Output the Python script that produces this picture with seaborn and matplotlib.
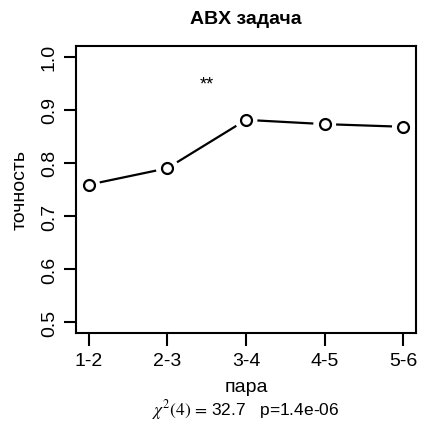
import matplotlib
matplotlib.use("Agg")
import matplotlib.pyplot as plt
import seaborn as sns
import pandas as pd

# data
pairs = ["1-2", "2-3", "3-4", "4-5", "5-6"]
accuracy = [0.759, 0.790, 0.881, 0.873, 0.868]
yticks = [0.5, 0.6, 0.7, 0.8, 0.9, 1.0]
ytick_labels = ["0.5", "0.6", "0.7", "0.8", "0.9", "1.0"]
title = "ABX задача"
xlabel = "пара"
ylabel = "точность"
signif_text = "**"
signif_x = 1.5
signif_y = 0.948
subtitle = r"$\chi^2(4)\,=\,$" + "32.7   p=1.4e-06"

sns.set_style("white")
plt.rcParams["font.family"] = ["Liberation Sans", "DejaVu Sans"]
plt.rcParams["mathtext.fontset"] = "stix"
plt.rcParams["text.color"] = "black"
plt.rcParams["axes.labelcolor"] = "black"
plt.rcParams["xtick.color"] = "black"
plt.rcParams["ytick.color"] = "black"

df = pd.DataFrame({"pair": pairs, "acc": accuracy})

fig = plt.figure(figsize=(4.21, 4.27), dpi=100)
ax = fig.add_axes([76 / 421, 1 - 334 / 427, 340 / 421, 287 / 427])

sns.lineplot(data=df, x="pair", y="acc", ax=ax, color="black", linewidth=1.6, zorder=2)
sns.scatterplot(data=df, x="pair", y="acc", ax=ax, s=270, color="white",
                edgecolor="none", linewidth=0, zorder=3)
sns.scatterplot(data=df, x="pair", y="acc", ax=ax, s=62, color="white",
                edgecolor="black", linewidth=1.6, zorder=4)

ax.set_xlim(-0.16, 4.16)
ax.set_ylim(0.48, 1.02)
ax.set_yticks(yticks)
ax.set_yticklabels(ytick_labels, rotation=90, va="center")
ax.set_xticks(range(len(pairs)))
ax.set_xticklabels(pairs)

ax.tick_params(axis="both", direction="out", length=9, width=1.5, color="black",
               labelsize=14, labelcolor="black", bottom=True, left=True)
ax.tick_params(axis="x", pad=5)
ax.tick_params(axis="y", pad=4)

for sp in ax.spines.values():
    sp.set_visible(True)
    sp.set_color("black")
    sp.set_linewidth(1.5)

ax.set_xlabel("")
ax.set_ylabel("")
ax.text(signif_x, signif_y, signif_text, ha="center", va="center", fontsize=13, color="black")

fig.text(0.5 * (76 + 416) / 421, 1 - 20 / 427, title, ha="center", va="center",
         fontsize=14, fontweight="bold", color="black")
fig.text(0.5 * (76 + 416) / 421, 1 - 388 / 427, xlabel, ha="center", va="center",
         fontsize=14, color="black")
fig.text(20 / 421, 1 - 190 / 427, ylabel, ha="center", va="center", rotation=90,
         fontsize=14, color="black")
fig.text(0.5 * (76 + 416) / 421, 1 - 410 / 427, subtitle, ha="center", va="center",
         fontsize=12.5, color="black")

fig.savefig("out.png", dpi=100)
